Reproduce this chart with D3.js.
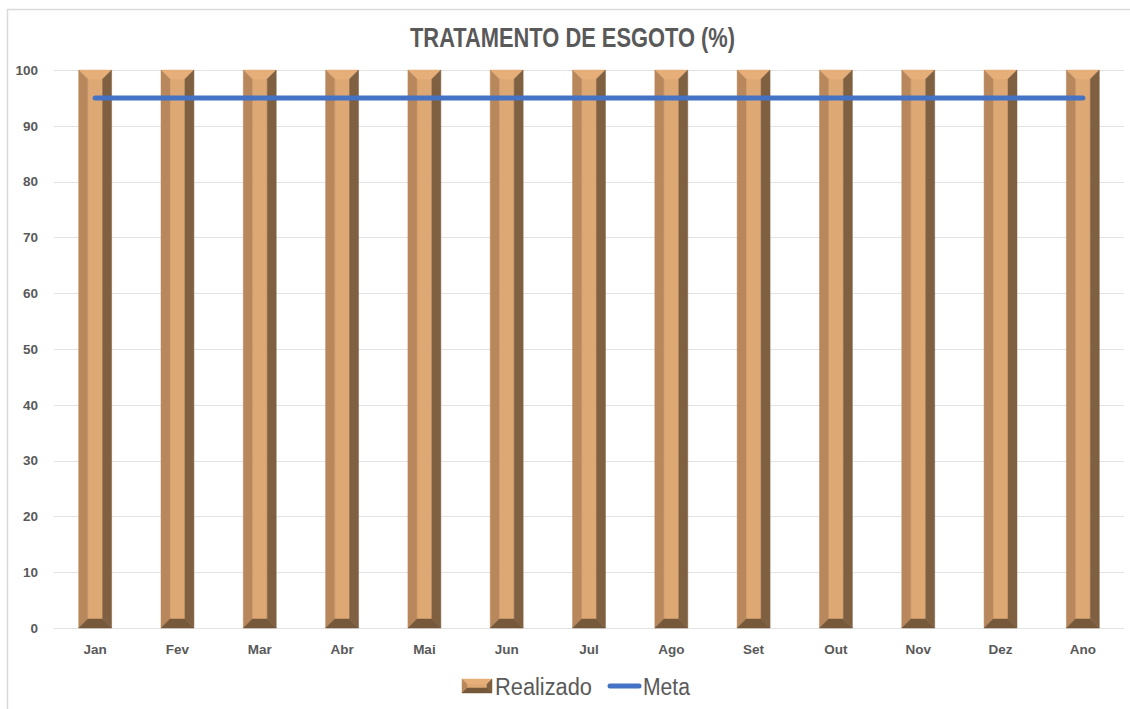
<!DOCTYPE html>
<html>
<head>
<meta charset="utf-8">
<script src="https://cdn.jsdelivr.net/npm/d3@7"></script>
<style>
  html, body { margin: 0; padding: 0; background: #fff; }
  svg { display: block; font-family: "Liberation Sans", Arial, sans-serif; }
</style>
</head>
<body>
<svg id="chart" width="1130" height="709"></svg>
<script>
// ── Data ──────────────────────────────────────────────────────────────────
const months    = ['Jan', 'Fev', 'Mar', 'Abr', 'Mai', 'Jun', 'Jul', 'Ago', 'Set', 'Out', 'Nov', 'Dez', 'Ano'];
const realizado = [100, 100, 100, 100, 100, 100, 100, 100, 100, 100, 100, 100, 100];
const meta      = [95, 95, 95, 95, 95, 95, 95, 95, 95, 95, 95, 95, 95];
const yTicks    = [0, 10, 20, 30, 40, 50, 60, 70, 80, 90, 100];

// ── Setup ─────────────────────────────────────────────────────────────────
const svg = d3.select('#chart');
const W = 1130, H = 709;
const bevel = 9;
const col = { top: '#e6ae78', mid: '#dea874', left: '#b8885c', right: '#7f6040', bot: '#76583a' };

const x = d3.scaleBand().domain(months).range([54, 1124]).paddingInner(0.6).paddingOuter(0.3);
const y = d3.scaleLinear().domain([0, 100]).range([628, 70]);

// chart frame
svg.append('path')
  .attr('d', `M7.5,${H} V9.5 H${W}`)
  .attr('fill', 'none').attr('stroke', '#d9d9d9').attr('stroke-width', 1.5);

// title (condensed look via textLength, no narrow font installed)
svg.append('text')
  .attr('x', 410).attr('y', 47)
  .attr('textLength', 325).attr('lengthAdjust', 'spacingAndGlyphs')
  .style('font-weight', 'bold').style('font-size', '27px')
  .attr('fill', '#595959')
  .text('TRATAMENTO DE ESGOTO (%)');

// gridlines
svg.append('g').selectAll('line')
  .data(yTicks)
  .join('line')
  .attr('x1', 54).attr('x2', 1124)
  .attr('y1', d => Math.round(y(d)) + 0.5).attr('y2', d => Math.round(y(d)) + 0.5)
  .attr('stroke', '#e3e3e3').attr('stroke-width', 1);

// y labels
svg.append('g').selectAll('text')
  .data(yTicks)
  .join('text')
  .attr('x', 38).attr('y', d => y(d))
  .attr('dy', '0.35em').attr('text-anchor', 'end')
  .style('font-size', '13.5px').style('font-weight', 'bold')
  .attr('fill', '#595959')
  .text(d => d);

// x labels
svg.append('g').selectAll('text')
  .data(months)
  .join('text')
  .attr('x', d => x(d) + x.bandwidth() / 2).attr('y', 654)
  .attr('text-anchor', 'middle')
  .style('font-size', '13.5px').style('font-weight', 'bold')
  .attr('fill', '#595959')
  .text(d => d);

// ── Bevelled bars ─────────────────────────────────────────────────────────
function bevelFaces(x0, x1, y0, y1, b) {
  return [
    { c: col.mid,   p: [[x0 + b, y1 + b], [x1 - b, y1 + b], [x1 - b, y0 - b], [x0 + b, y0 - b]] },
    { c: col.top,   p: [[x0, y1], [x1, y1], [x1 - b, y1 + b], [x0 + b, y1 + b]] },
    { c: col.left,  p: [[x0, y1], [x0 + b, y1 + b], [x0 + b, y0 - b], [x0, y0]] },
    { c: col.right, p: [[x1, y1], [x1, y0], [x1 - b, y0 - b], [x1 - b, y1 + b]] },
    { c: col.bot,   p: [[x0, y0], [x0 + b, y0 - b], [x1 - b, y0 - b], [x1, y0]] },
  ];
}

const bars = svg.append('g').selectAll('g')
  .data(months.map((m, i) => ({ m, v: realizado[i] })))
  .join('g');

bars.each(function(d) {
  const x0 = x(d.m), x1 = x0 + x.bandwidth();
  d3.select(this).selectAll('polygon')
    .data(bevelFaces(x0, x1, y(0), y(d.v), bevel))
    .join('polygon')
    .attr('points', f => f.p.map(q => q.join(',')).join(' '))
    .attr('fill', f => f.c)
    .attr('stroke', f => f.c).attr('stroke-width', 0.5);
});

// ── Meta line ─────────────────────────────────────────────────────────────
const line = d3.line()
  .x((d, i) => x(months[i]) + x.bandwidth() / 2)
  .y(d => y(d));

svg.append('path')
  .datum(meta)
  .attr('d', line)
  .attr('fill', 'none')
  .attr('stroke', '#4472c4').attr('stroke-width', 5)
  .attr('stroke-linecap', 'round');

// ── Legend ────────────────────────────────────────────────────────────────
const lg = svg.append('g');
const sx = 462, sy = 679, sw = 30, sh = 14, sb = 5;
bevelFaces(sx, sx + sw, sy + sh, sy, sb).forEach(f => {
  lg.append('polygon')
    .attr('points', f.p.map(q => q.join(',')).join(' '))
    .attr('fill', f.c).attr('stroke', f.c).attr('stroke-width', 0.5);
});
lg.append('text')
  .attr('x', 495).attr('y', 695)
  .attr('textLength', 97).attr('lengthAdjust', 'spacingAndGlyphs')
  .style('font-size', '23px').attr('fill', '#595959')
  .text('Realizado');
lg.append('line')
  .attr('x1', 610).attr('x2', 639).attr('y1', 686).attr('y2', 686)
  .attr('stroke', '#4472c4').attr('stroke-width', 5).attr('stroke-linecap', 'round');
lg.append('text')
  .attr('x', 643).attr('y', 695)
  .attr('textLength', 47).attr('lengthAdjust', 'spacingAndGlyphs')
  .style('font-size', '23px').attr('fill', '#595959')
  .text('Meta');
</script>
</body>
</html>
